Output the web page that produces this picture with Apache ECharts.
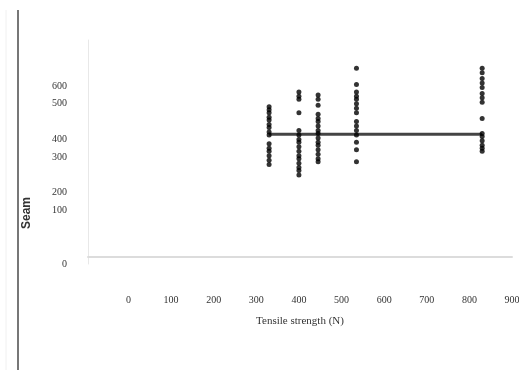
<!DOCTYPE html>
<html>
<head>
<meta charset="utf-8">
<script src="https://cdn.jsdelivr.net/npm/echarts@6/dist/echarts.min.js"></script>
<style>html,body{margin:0;padding:0;background:#fff}#c{width:519px;height:370px}</style>
</head>
<body>
<div id="c"></div>
<script>
// x positions of the measured groups (N)
var groupX = [330, 400, 445, 535, 830];
// Seam values for each group (in axis units)
var group1 = [530,520,510,495,485,470,460,445,435,405,390,380,365,350,335];
var group2 = [580,565,555,510,450,435,420,410,395,380,365,355,340,325,315,300];
var group3 = [570,555,535,505,490,480,465,450,440,425,410,400,385,370,355,345];
var group4 = [660,605,580,565,555,540,525,510,480,465,450,435,410,385,345];
var group5 = [660,645,625,610,595,575,560,545,490,440,430,415,400,390,380];
var meanValue = 437;
// tick labels
var xTicks = [0,100,200,300,400,500,600,700,800,900];
var yTickValues = [0,180,240,360,420,540,600];
var yTickTexts = ['0','100','200','300','400','500','600'];

var groups = [group1, group2, group3, group4, group5];
var points = [];
groups.forEach(function (g, i) {
  g.forEach(function (v) { points.push([groupX[i], v]); });
});
var meanLine = [[groupX[0], meanValue], [groupX[groupX.length - 1], meanValue]];

var chart = echarts.init(document.getElementById('c'));
chart.setOption({
  animation: false,
  backgroundColor: '#fff',
  grid: { left: 88, right: 7, top: 40, bottom: 106, containLabel: false, outerBoundsMode: 'none' },
  xAxis: {
    type: 'value', min: -95, max: 900,
    offset: -7,
    axisLine: { onZero: false, lineStyle: { color: '#dcdcdc', width: 2 } },
    axisTick: { show: false },
    splitLine: { show: false },
    axisLabel: { customValues: xTicks, margin: 38, color: '#333', fontSize: 10, fontFamily: 'Liberation Serif' },
    name: 'Tensile strength (N)', nameLocation: 'middle', nameGap: 59,
    nameTextStyle: { color: '#333', fontSize: 11, fontFamily: 'Liberation Serif' }
  },
  yAxis: {
    type: 'value', min: 0, max: 755,
    axisLine: { show: true, onZero: false, lineStyle: { color: '#e8e8e8', width: 1 } },
    axisTick: { show: false },
    splitLine: { show: false },
    axisLabel: {
      customValues: yTickValues, margin: 21, color: '#333', fontSize: 10, fontFamily: 'Liberation Serif',
      formatter: function (v) { var i = yTickValues.indexOf(v); return i >= 0 ? yTickTexts[i] : ''; }
    }
  },
  graphic: [
    { type: 'line', shape: { x1: 18, y1: 10, x2: 18, y2: 370 }, style: { stroke: '#777', lineWidth: 2 } },
    { type: 'line', shape: { x1: 6, y1: 10, x2: 6, y2: 370 }, style: { stroke: '#f0f0f0', lineWidth: 1 } },
    { type: 'text', x: 27, y: 213, rotation: Math.PI / 2,
      style: { text: 'Seam', fill: '#333', font: 'bold 12px "Liberation Sans", Arial, sans-serif', align: 'center', verticalAlign: 'middle' } }
  ],
  series: [
    { type: 'line', data: meanLine, symbol: 'none', lineStyle: { color: '#444', width: 3 }, z: 2 },
    { type: 'scatter', data: points, symbol: 'circle', symbolSize: 5, itemStyle: { color: '#000' }, z: 3 }
  ]
});
</script>
</body>
</html>
